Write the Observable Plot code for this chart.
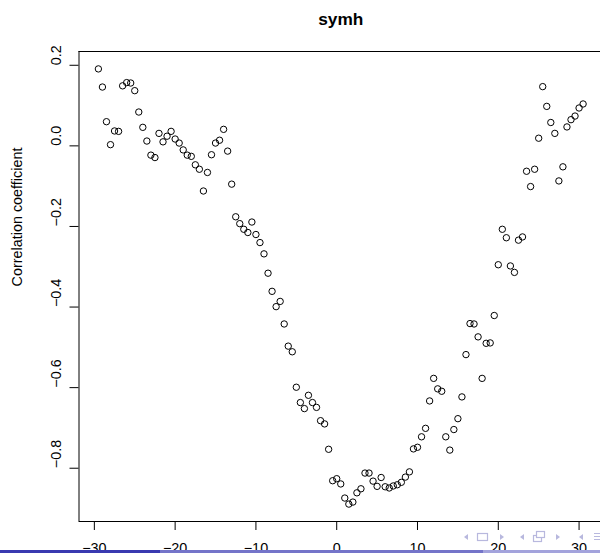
<!DOCTYPE html>
<html>
<head>
<meta charset="utf-8">
<script src="https://cdn.jsdelivr.net/npm/d3@7"></script>
<script src="https://cdn.jsdelivr.net/npm/@observablehq/plot@0.6"></script>
<style>
  html, body { margin: 0; padding: 0; background: #fff; overflow: hidden; }
  #wrap { position: relative; width: 600px; height: 553px; overflow: hidden; background: #fff; }
  #chart svg { display: block; }
  #footline { position: absolute; left: 0; top: 550px; width: 600px; height: 3px; }
  #footline div { position: absolute; top: 0; height: 3px; }
  #nav { position: absolute; left: 455px; top: 526px; }
</style>
</head>
<body>
<div id="wrap">
  <div id="chart"></div>
  <svg id="nav" width="145" height="20" viewBox="0 0 145 20">
    <g fill="#b8b8de" stroke="#b8b8de" stroke-width="1.2">
      <path d="M13 8 L9 11 L13 14 Z" stroke="none"/>
      <rect x="22.5" y="7.5" width="10" height="7" fill="none"/>
      <path d="M45 8 L49 11 L45 14 Z" stroke="none"/>
      <path d="M69 8 L65 11 L69 14 Z" stroke="none"/>
      <rect x="78.5" y="9.5" width="8" height="6" fill="none"/>
      <rect x="81.5" y="5.5" width="8" height="6" fill="#fff"/>
      <path d="M101 8 L105 11 L101 14 Z" stroke="none"/>
      <path d="M128 8 L124 11 L128 14 Z" stroke="none"/>
      <path d="M139 7.5 H146 M139 10.5 H146 M139 13.5 H146" fill="none"/>
    </g>
  </svg>
  <div id="footline">
    <div style="left:0;width:160px;background:#3939b0"></div>
    <div style="left:160px;width:323px;background:#7474c9"></div>
    <div style="left:483px;width:117px;background:#a3a3dc"></div>
  </div>
</div>
<script>
// Lagged correlation of SYM-H, one value every half step of lag
const title = "symh";
const yLabel = "Correlation coefficient";

const lags = [
  -29.5, -29, -28.5, -28, -27.5, -27, -26.5, -26, -25.5, -25,
  -24.5, -24, -23.5, -23, -22.5, -22, -21.5, -21, -20.5, -20,
  -19.5, -19, -18.5, -18, -17.5, -17, -16.5, -16, -15.5, -15,
  -14.5, -14, -13.5, -13, -12.5, -12, -11.5, -11, -10.5, -10,
  -9.5, -9, -8.5, -8, -7.5, -7, -6.5, -6, -5.5, -5,
  -4.5, -4, -3.5, -3, -2.5, -2, -1.5, -1, -0.5, 0,
  0.5, 1, 1.5, 2, 2.5, 3, 3.5, 4, 4.5, 5,
  5.5, 6, 6.5, 7, 7.5, 8, 8.5, 9, 9.5, 10,
  10.5, 11, 11.5, 12, 12.5, 13, 13.5, 14, 14.5, 15,
  15.5, 16, 16.5, 17, 17.5, 18, 18.5, 19, 19.5, 20,
  20.5, 21, 21.5, 22, 22.5, 23, 23.5, 24, 24.5, 25,
  25.5, 26, 26.5, 27, 27.5, 28, 28.5, 29, 29.5, 30,
  30.5
];

const corr = [
  0.191, 0.146, 0.060, 0.003, 0.037, 0.036, 0.149, 0.157, 0.156, 0.137,
  0.084, 0.046, 0.012, -0.023, -0.029, 0.031, 0.010, 0.024, 0.036, 0.017,
  0.007, -0.010, -0.023, -0.026, -0.047, -0.058, -0.112, -0.066, -0.022, 0.007,
  0.014, 0.041, -0.013, -0.095, -0.176, -0.193, -0.207, -0.215, -0.189, -0.220,
  -0.240, -0.268, -0.316, -0.361, -0.399, -0.386, -0.442, -0.497, -0.511, -0.599,
  -0.637, -0.652, -0.619, -0.637, -0.649, -0.682, -0.690, -0.753, -0.831, -0.826,
  -0.839, -0.874, -0.889, -0.884, -0.861, -0.851, -0.812, -0.812, -0.832, -0.845,
  -0.823, -0.846, -0.849, -0.844, -0.841, -0.835, -0.822, -0.809, -0.752, -0.748,
  -0.722, -0.701, -0.633, -0.577, -0.603, -0.609, -0.722, -0.755, -0.704, -0.677,
  -0.623, -0.518, -0.441, -0.442, -0.474, -0.577, -0.490, -0.489, -0.421, -0.295,
  -0.207, -0.228, -0.298, -0.314, -0.234, -0.226, -0.063, -0.101, -0.058, 0.019,
  0.147, 0.098, 0.058, 0.031, -0.087, -0.052, 0.047, 0.065, 0.074, 0.094,
  0.104
];

const xTicks = [-30, -20, -10, 0, 10, 20, 30];
const yTicks = [0.2, 0.0, -0.2, -0.4, -0.6, -0.8];

const points = lags.map((lag, i) => ({lag, r: corr[i]}));

// Axis limits padded by 4% of the data range on each side
const pad = ([lo, hi]) => [lo - (hi - lo) * 0.04, hi + (hi - lo) * 0.04];
const xDom = pad(d3.extent(lags));
const yDom = pad(d3.extent(corr));

const font = "'Liberation Sans', Arial, Helvetica, sans-serif";
const fmtY = d3.format(".1f");

const chart = Plot.plot({
  width: 600,
  height: 553,
  marginLeft: 78.5,
  marginRight: -2,
  marginTop: 51,
  marginBottom: 32,
  style: {fontFamily: font, fontSize: "14.4px", color: "black", background: "white"},
  x: {domain: xDom},
  y: {domain: yDom},
  marks: [
    // box around the plotting region
    Plot.ruleX([xDom[0]], {stroke: "black", strokeWidth: 1}),
    Plot.ruleY(yDom, {stroke: "black", strokeWidth: 1}),
    Plot.axisX(xTicks, {tickSize: 9, tickPadding: 12, tickFormat: d3.format("d"), label: null}),
    Plot.axisY(yTicks, {tickSize: 9, tickFormat: () => "", label: null}),
    Plot.text(yTicks, {y: d => d, text: d => fmtY(d), frameAnchor: "left", dx: -22.5, rotate: -90, fill: "black"}),
    Plot.dot(points, {x: "lag", y: "r", r: 3.2, stroke: "black", strokeWidth: 1, fill: "none"}),
    Plot.text([title], {frameAnchor: "top", dy: -38.5, text: d => d, fontWeight: "bold", fontSize: 17.3, fill: "black"}),
    Plot.text([yLabel], {frameAnchor: "left", dx: -62, text: d => d, rotate: -90, fill: "black"})
  ]
});

document.getElementById("chart").appendChild(chart);
</script>
</body>
</html>
